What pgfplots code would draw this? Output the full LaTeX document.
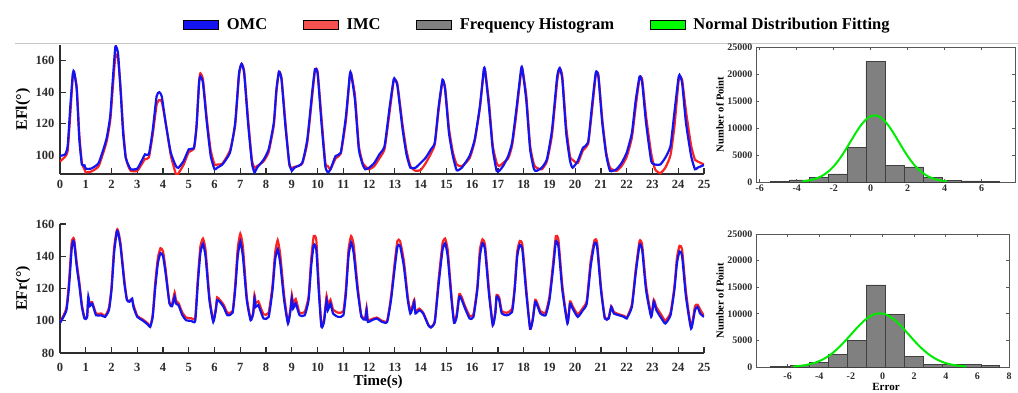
\documentclass[border=0pt]{standalone}
\usepackage{fontspec}
\setmainfont{Liberation Serif}
\usepackage{pgfplots}
\usepackage{pgfplotstable}
\pgfplotsset{compat=1.18}
\definecolor{omc}{RGB}{20,20,240}
\definecolor{imc}{RGB}{250,35,35}
\definecolor{histgray}{RGB}{128,128,128}
\definecolor{fitgreen}{RGB}{0,235,0}
\definecolor{axgray}{RGB}{45,45,45}

\pgfplotstableread{
t b r
0 99.5 96
0.2 100.5 99
0.3 106 103
0.4 131 126
0.5 152 151
0.55 153 152
0.65 141.6 143
0.75 110 113
0.85 94 95
0.95 93.5 91
1.0 91.4 89
1.2 91.4 89.5
1.5 95 93
1.8 110 108
1.95 124.8 122
2.05 148 143
2.15 169 163
2.25 165 162
2.35 141.6 143
2.45 114 117
2.55 98.4 99
2.65 94 93
2.75 91 90
3.0 91.4 90
3.2 97.3 95
3.3 100.5 97.5
3.45 100.5 98.5
3.6 116 113
3.75 137.4 132
3.85 140 135
3.95 137.4 134
4.1 120.5 121
4.3 101.6 100
4.5 93 88
4.6 92 88.5
4.8 96.3 94
5.0 103.7 102
5.2 104.7 104
5.3 118.4 118
5.4 146 147
5.45 150 152
5.55 146 148
5.7 120.5 123
5.85 99.5 103
6.0 91 94
6.1 92 94
6.3 94 94.5
6.6 101.6 103
6.8 120.5 119
6.95 152 151
7.05 158 158
7.15 152 153
7.3 120.5 123
7.45 95 97
7.55 89 92
7.65 92 93
7.9 97 96
8.1 103.7 102
8.3 120.5 119
8.4 141.6 140
8.5 153 153
8.6 148 149
8.75 118.4 121
8.9 95 94
9.0 90 92
9.1 92 92.5
9.4 95 94.5
9.6 110 108
9.8 141.6 139
9.9 154.7 154
10.0 152 153
10.15 120.5 124
10.3 93 95
10.4 89 93
10.5 91 91
10.7 99.5 98
10.9 101.6 101
11.1 124.8 122
11.25 151 150
11.3 152 152
11.45 135 138
11.6 103.7 106
11.75 94 95
11.85 91 93
12.0 92 91
12.2 95 93
12.4 100.5 98
12.6 105.8 104
12.8 131 128
12.95 148 147
13.0 148.4 148
13.1 143.8 145
13.3 116.3 119
13.45 100.5 103
13.6 92 93
13.8 92 90
14.0 95 90.5
14.2 98.4 95
14.4 103.7 101
14.55 108 107
14.7 131 129
14.85 148 147
14.95 141.6 143
15.1 114 117
15.25 99.5 102
15.4 90.4 94
15.6 92 93
15.9 99.5 98
16.1 110 109
16.3 131 130
16.45 154.3 153
16.5 154 154
16.65 131 134
16.8 103.7 106
16.95 90 95
17.05 90 93
17.2 93 95
17.4 99.5 98
17.55 108 106
17.7 127 124
17.9 154.7 153
17.95 154.7 155
18.1 135 138
18.25 103.7 106
18.4 91 94
18.5 90 92
18.7 92 91
18.9 97.3 96
19.1 116 113
19.3 150 147
19.4 155.4 155
19.5 148 150
19.65 114 118
19.8 96.3 99
19.9 92 97
20.1 96.3 95
20.3 104.7 103
20.5 108 107
20.65 131 128
20.8 152.6 151
20.9 150 151
21.05 120.5 123
21.2 100.5 102
21.35 90 92
21.6 91 90
21.8 95 93
22.0 101.6 99
22.2 114 111
22.35 135 131
22.5 150 149
22.6 146 148
22.75 120.5 125
22.95 96.3 101
23.1 94 91
23.3 94 88.5
23.5 98.4 92
23.7 105.8 100
23.85 127 118
24.0 148 145
24.05 151 150
24.15 146 148
24.3 120.5 128
24.5 99.5 106
24.65 91 97
24.75 92 96
25.0 93.7 94
}\topdata

\pgfplotstableread{
t b r
0.0 98.7 99
0.1 101.4 102
0.25 106.6 108
0.35 121 124
0.45 144 148
0.5 149.2 151
0.55 148.6 150.5
0.65 133.6 136
0.75 122 124
0.85 108.6 110
0.95 101.4 102
1.05 102 102.5
1.1 115 114
1.15 109 111
1.25 110.7 111.5
1.4 103.4 104.5
1.6 103.4 104.5
1.75 102.4 103
1.9 106.6 108
2.0 119 121
2.1 142 145
2.2 154.8 156
2.25 155.2 156.2
2.35 146 148
2.5 123 125
2.6 112.8 113
2.7 111.8 112.5
2.8 113.8 113
2.85 108.6 110
3.0 102.4 103
3.2 100.3 101
3.4 97.8 98.5
3.5 96.2 96.5
3.6 102.4 104
3.7 121 124
3.8 135.7 139
3.9 142 145
4.0 140 143
4.1 129.4 132
4.25 110.7 111
4.35 109 110.5
4.45 115 117.5
4.5 110.7 112.5
4.6 109.7 111
4.75 103.4 105
4.9 100.3 102
5.1 99.9 101.5
5.25 99.9 102
5.35 123 126
5.45 142 146
5.55 147.7 151
5.65 140 144
5.8 112.8 115
5.95 99.3 100
6.05 106.6 108
6.1 112.8 114.5
6.2 111.8 113
6.35 108.6 110
6.5 103.4 105
6.7 105 106
6.8 119 122
6.9 140 145
7.0 149.2 154
7.1 140 146
7.25 112.8 115
7.4 100.3 101
7.5 104.5 105
7.55 113.8 116
7.6 108.6 111
7.7 109.7 112
7.9 101.4 104
8.1 102.4 105
8.25 119 122
8.35 137.8 142
8.45 144.4 150
8.55 135.7 141
8.7 112.8 116
8.85 98.3 99
8.95 106.6 108
9.0 113.8 116
9.05 107.6 110
9.15 110.7 113.5
9.3 103.4 105
9.5 103.4 105.5
9.65 112.8 115
9.75 133.6 138
9.85 147.1 152.5
9.95 144 150
10.05 117 121
10.15 96.2 96.5
10.25 99.3 101
10.35 112.8 115.5
10.4 106.6 109
10.5 110.7 113
10.6 104.5 107
10.8 102.4 105
11.0 103.4 106
11.1 117 120
11.2 140 144
11.3 148.6 152.5
11.4 142 147
11.55 119 122
11.7 102.4 103
11.85 100.7 102
11.9 106.6 108
11.95 99.3 100.5
12.1 100.3 101
12.3 101.4 102
12.5 99.3 100
12.7 99.3 100
12.85 112.8 115
13.0 133.6 137
13.1 146 149.5
13.2 146.5 149.5
13.35 133.6 137
13.5 112.8 115
13.6 104.5 106
13.7 108.6 110
13.75 111.8 113
13.8 104.5 106
13.95 106.6 107.5
14.1 104.5 105
14.3 97.2 97.5
14.4 95.8 96
14.55 99.3 100
14.7 123 126
14.85 144 148
14.95 148.1 151
15.05 140 144
15.2 112.8 115
15.3 98.7 99
15.4 102.4 104
15.5 115 116.5
15.6 112.8 114.5
15.7 108.6 110
15.9 101.4 103
16.05 102.4 104
16.2 119 121
16.3 140 144
16.4 148.1 150.5
16.5 144 147
16.65 117 120
16.8 97.2 97.5
16.9 104.5 106
16.95 115 116
17.05 112.8 114.5
17.15 104.5 106
17.35 103.4 105
17.55 105.5 107.5
17.65 119 121
17.75 140 143
17.85 147.1 149.5
17.95 144 147
18.1 117 120
18.25 95.1 95
18.35 100.3 101
18.45 111.8 113
18.55 108.6 110
18.65 104.5 106
18.85 103.4 105
19.0 112.8 115
19.15 133.6 137
19.25 149.2 152.5
19.35 146 150
19.5 119 122
19.7 98.3 99
19.8 110.7 112
19.9 107.6 109
20.1 102.4 104
20.3 106.6 108
20.45 110.7 112.5
20.6 133.6 137
20.75 148.1 150
20.85 146 148.5
21.0 119 121
21.15 101.4 102
21.3 101.4 102
21.4 108.6 109
21.5 104.5 105.5
21.7 103.4 104
21.9 102.4 103
22.0 101.4 102
22.2 108.6 110
22.35 129.4 132
22.5 147.1 149.5
22.6 144 147
22.75 119 122
22.95 102.4 103.5
23.05 111.8 113
23.15 106.6 108.5
23.35 101.4 103.5
23.5 98.3 100
23.7 103.4 105
23.85 119 121
23.95 135.7 139
24.05 143 146.5
24.15 140 144
24.3 114.9 118
24.5 95.1 96
24.65 106.6 109
24.75 108.6 110
24.85 104.5 107
25.0 102.4 103
}\botdata

\pgfplotsset{
  tsaxis/.style={
    scale only axis, anchor=south west,
    width=644pt, height=129pt,
    xmin=0, xmax=25, xtick={0,1,...,25},
    axis x line*=bottom, axis y line*=left,
    axis line style={axgray, line width=1.2pt},
    tick style={axgray, line width=1.2pt},
    tick align=inside, major tick length=6pt,
    /pgf/number format/assume math mode=true,
    tick label style={font=\bfseries\fontsize{12.5}{12.5}\selectfont, text=axgray},
    xticklabel style={yshift=-3pt},
    yticklabel style={xshift=-2pt},
    ylabel style={font=\bfseries\fontsize{16}{16}\selectfont, rotate=0},
  },
  hsaxis/.style={
    scale only axis, anchor=south west,
    ymin=0, ymax=25000, ytick={0,5000,...,25000},
    scaled y ticks=false,
    /pgf/number format/assume math mode=true,
    /pgf/number format/1000 sep={},
    axis line style={axgray!80, line width=0.8pt},
    tick style={axgray!80, line width=0.8pt},
    tick align=inside, major tick length=3pt,
    tick label style={font=\bfseries\fontsize{10}{10}\selectfont, text=axgray},
    ylabel style={font=\bfseries\fontsize{10.5}{10.5}\selectfont},
  },
}

\begin{document}
\begin{tikzpicture}
\useasboundingbox (0pt,0pt) rectangle (1018pt,392pt);
\draw[black!22, line width=0.9pt] (15pt,349pt) -- (1018pt,349pt);

% ---- top left: EFl
\begin{axis}[tsaxis, at={(60pt,218pt)},
  ymin=88, ymax=170, ytick={100,120,140,160},
  ylabel={EFl(°)},
  ylabel style={at={(axis description cs:-0.0575,0.5)}, anchor=center},
  legend columns=4,
  legend image code/.code={\fill[#1] (0pt,-4.5pt) rectangle (35pt,4.5pt);},
  legend style={at={(axis description cs:0.7415,1.155)}, anchor=center,
    draw=none, fill=none, font=\bfseries\fontsize{16.5}{16.5}\selectfont,
    /tikz/every odd column/.append style={column sep=6pt},
    /tikz/every even column/.append style={column sep=34pt}},
]
\addplot[imc, line width=2.2pt, smooth, tension=0.3, forget plot] table[x=t,y=r]{\topdata};
\addplot[omc, line width=2.2pt, smooth, tension=0.3, forget plot] table[x=t,y=b]{\topdata};
\addlegendimage{fill=omc}
\addlegendentry{OMC}
\addlegendimage{fill={rgb,255:red,245;green,80;blue,80}}
\addlegendentry{IMC}
\addlegendimage{fill=histgray}
\addlegendentry{Frequency Histogram}
\addlegendimage{fill={rgb,255:red,0;green,250;blue,0}}
\addlegendentry{Normal Distribution Fitting}
\end{axis}

% ---- bottom left: EFr
\begin{axis}[tsaxis, at={(60pt,39pt)},
  ymin=80, ymax=160, ytick={80,100,...,160},
  ylabel={EFr(°)},
  ylabel style={at={(axis description cs:-0.0575,0.5)}, anchor=center},
  xlabel={Time(s)},
  xlabel style={font=\bfseries\fontsize{15}{15}\selectfont, at={(axis description cs:0.494,-0.222)}, anchor=center},
  xticklabel style={yshift=-4pt},
]
\addplot[imc, line width=2.2pt, smooth, tension=0.3] table[x=t,y=r]{\botdata};
\addplot[omc, line width=2.2pt, smooth, tension=0.3] table[x=t,y=b]{\botdata};
\end{axis}

% ---- top histogram
\begin{axis}[hsaxis, at={(756pt,210pt)}, width=259pt, height=135pt,
  xmin=-6.2, xmax=7.8, xtick={-6,-4,...,6},
  ylabel={Number of Point},
  ylabel style={at={(axis description cs:-0.139,0.5)}, anchor=center},
  xticklabel style={yshift=1pt},
]
\addplot[ybar interval, fill=histgray, draw=black!75, line width=0.6pt] coordinates {
(-5.42,100) (-4.38,400) (-3.34,850) (-2.31,1500) (-1.28,6400) (-0.26,22300)
(0.79,3100) (1.81,2800) (2.84,800) (3.87,350) (4.91,200) (5.95,150) (6.96,150)};
\addplot[fitgreen, line width=2pt, smooth] coordinates {
(-3.69,137) (-3.365,282) (-3.04,542) (-2.715,983) (-2.39,1671) (-2.065,2671)
(-1.74,4010) (-1.415,5654) (-1.09,7490) (-0.765,9322) (-0.44,10899) (-0.115,11970)
(0.21,12350) (0.535,11970) (0.86,10899) (1.185,9322) (1.51,7490) (1.835,5654)
(2.16,4010) (2.485,2671) (2.81,1671) (3.135,983) (3.46,542) (3.785,282) (4.11,137)};
\end{axis}

% ---- bottom histogram
\begin{axis}[hsaxis, at={(756pt,25pt)}, width=253pt, height=133pt,
  xmin=-8, xmax=8, xtick={-6,-4,...,8},
  ylabel={Number of Point},
  ylabel style={at={(axis description cs:-0.142,0.5)}, anchor=center},
  xlabel={Error},
  xlabel style={font=\bfseries\fontsize{11}{11}\selectfont, at={(axis description cs:0.514,-0.177)}, anchor=base},
  xticklabel style={yshift=-2pt},
]
\addplot[ybar interval, fill=histgray, draw=black!75, line width=0.6pt] coordinates {
(-7.07,100) (-5.85,350) (-4.63,900) (-3.43,2400) (-2.23,4950) (-1.03,15450)
(0.19,9950) (1.39,1950) (2.59,450) (3.79,500) (5.01,550) (6.23,350) (7.41,350)};
\addplot[fitgreen, line width=2pt, smooth] coordinates {
(-5.63,112) (-5.175,230) (-4.72,443) (-4.265,804) (-3.81,1367) (-3.355,2185)
(-2.9,3279) (-2.445,4624) (-1.99,6126) (-1.535,7623) (-1.08,8913) (-0.625,9789)
(-0.17,10100) (0.285,9789) (0.74,8913) (1.195,7623) (1.65,6126) (2.105,4624)
(2.56,3279) (3.015,2185) (3.47,1367) (3.925,804) (4.38,443) (4.835,230) (5.29,112)};
\end{axis}
\end{tikzpicture}
\end{document}
